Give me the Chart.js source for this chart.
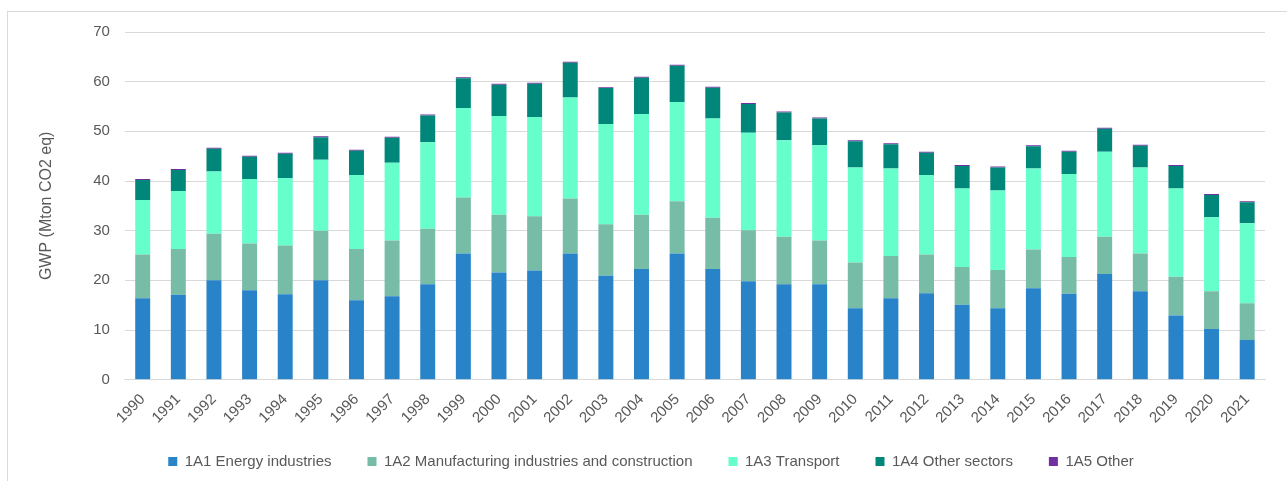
<!DOCTYPE html>
<html>
<head>
<meta charset="utf-8">
<script src="https://cdn.jsdelivr.net/npm/chart.js@4"></script>
<style>
  html, body { margin: 0; padding: 0; background: #fff; overflow: hidden; }
  #frame { position: absolute; left: 7px; top: 11px; width: 1320px; height: 520px; border: 1px solid #d9d9d9; }
  #wrap { position: absolute; left: 0; top: 0; width: 1287px; height: 481px; }
</style>
</head>
<body>
<div id="frame"></div>
<div id="wrap"><canvas id="gwpChart"></canvas></div>
<script>
// Émissions GWP par secteur (Mton CO2 eq).
const years = ['1990', '1991', '1992', '1993', '1994', '1995', '1996', '1997', '1998', '1999',
  '2000', '2001', '2002', '2003', '2004', '2005', '2006', '2007', '2008', '2009',
  '2010', '2011', '2012', '2013', '2014', '2015', '2016', '2017', '2018', '2019',
  '2020', '2021'];

const energy = [16.4, 17.1, 20.0, 18.0, 17.2, 20.0, 16.0, 16.8, 19.2, 25.4,
  21.6, 22.0, 25.4, 20.9, 22.3, 25.4, 22.3, 19.8, 19.2, 19.2,
  14.4, 16.4, 17.4, 15.1, 14.4, 18.4, 17.3, 21.3, 17.8, 12.9,
  10.2, 8.0];
const manufacturing = [8.8, 9.2, 9.4, 9.4, 9.8, 10.0, 10.3, 11.2, 11.2, 11.3,
  11.6, 10.9, 11.1, 10.4, 10.9, 10.5, 10.3, 10.3, 9.6, 8.8,
  9.2, 8.5, 7.8, 7.6, 7.7, 7.8, 7.4, 7.5, 7.6, 7.8,
  7.6, 7.4];
const transport = [11.0, 11.7, 12.5, 13.0, 13.6, 14.3, 14.9, 15.7, 17.4, 18.0,
  19.9, 20.0, 20.3, 20.2, 20.3, 20.0, 20.0, 19.6, 19.4, 19.2,
  19.1, 17.6, 16.0, 15.8, 16.0, 16.3, 16.7, 17.1, 17.3, 17.8,
  14.9, 16.1];
const otherSectors = [4.0, 4.2, 4.6, 4.5, 4.9, 4.5, 4.9, 5.0, 5.4, 6.0,
  6.3, 6.7, 7.0, 7.2, 7.3, 7.3, 6.2, 5.8, 5.6, 5.4,
  5.3, 4.9, 4.5, 4.5, 4.6, 4.5, 4.5, 4.6, 4.4, 4.5,
  4.5, 4.2];
const other = [0.2, 0.2, 0.2, 0.2, 0.2, 0.2, 0.2, 0.2, 0.2, 0.2,
  0.2, 0.2, 0.2, 0.2, 0.2, 0.2, 0.2, 0.2, 0.2, 0.2,
  0.2, 0.2, 0.2, 0.2, 0.2, 0.2, 0.2, 0.2, 0.2, 0.2,
  0.2, 0.2];

const yTicks = [0, 10, 20, 30, 40, 50, 60, 70];

const grey = '#595959';
const gridGrey = '#d9d9d9';
const font = 'Liberation Sans, Arial, sans-serif';

// La légende garde son espacement horizontal (padding 36) sans manger
// autant de hauteur : on la compte plus courte, puis on la remet en place.
const legendShift = 12;
const legendGap = {
  id: 'legendGap',
  beforeInit(chart) {
    const fit = chart.legend.fit;
    chart.legend.fit = function () {
      fit.call(this);
      this.height -= legendShift;
    };
  },
  afterLayout(chart) {
    chart.legend.top -= legendShift;
    chart.legend.height += legendShift;
  },
};

const serie = (label, data, color) => ({
  label, data,
  backgroundColor: color,
  borderWidth: 0,
  categoryPercentage: 1,
  barPercentage: 0.42,
});

new Chart(document.getElementById('gwpChart'), {
  type: 'bar',
  data: {
    labels: years,
    datasets: [
      serie('1A1 Energy industries', energy, '#2983c8'),
      serie('1A2 Manufacturing industries and construction', manufacturing, '#76bca6'),
      serie('1A3 Transport', transport, '#66ffcc'),
      serie('1A4 Other sectors', otherSectors, '#00877a'),
      serie('1A5 Other', other, '#7030a0'),
    ],
  },
  plugins: [legendGap],
  options: {
    responsive: true,
    maintainAspectRatio: false,
    animation: false,
    layout: { padding: { left: 37, right: 22, top: 32, bottom: 2 } },
    plugins: {
      legend: {
        position: 'bottom',
        labels: {
          color: grey,
          boxWidth: 9,
          boxHeight: 9,
          padding: 36,
          font: { family: font, size: 15 },
        },
      },
      tooltip: { enabled: true },
    },
    scales: {
      x: {
        stacked: true,
        grid: { display: false },
        border: { color: gridGrey },
        ticks: {
          color: grey,
          minRotation: 45,
          maxRotation: 45,
          autoSkip: false,
          font: { family: font, size: 15 },
        },
      },
      y: {
        stacked: true,
        min: 0,
        max: 70,
        afterBuildTicks: (axis) => { axis.ticks = yTicks.map(v => ({ value: v })); },
        grid: { color: gridGrey, drawTicks: false },
        border: { display: false },
        ticks: {
          color: grey,
          padding: 15,
          font: { family: font, size: 15 },
        },
        title: {
          display: true,
          text: 'GWP (Mton CO2 eq)',
          color: grey,
          padding: { top: 0, bottom: 22 },
          font: { family: font, size: 16 },
        },
      },
    },
  },
});
</script>
</body>
</html>
